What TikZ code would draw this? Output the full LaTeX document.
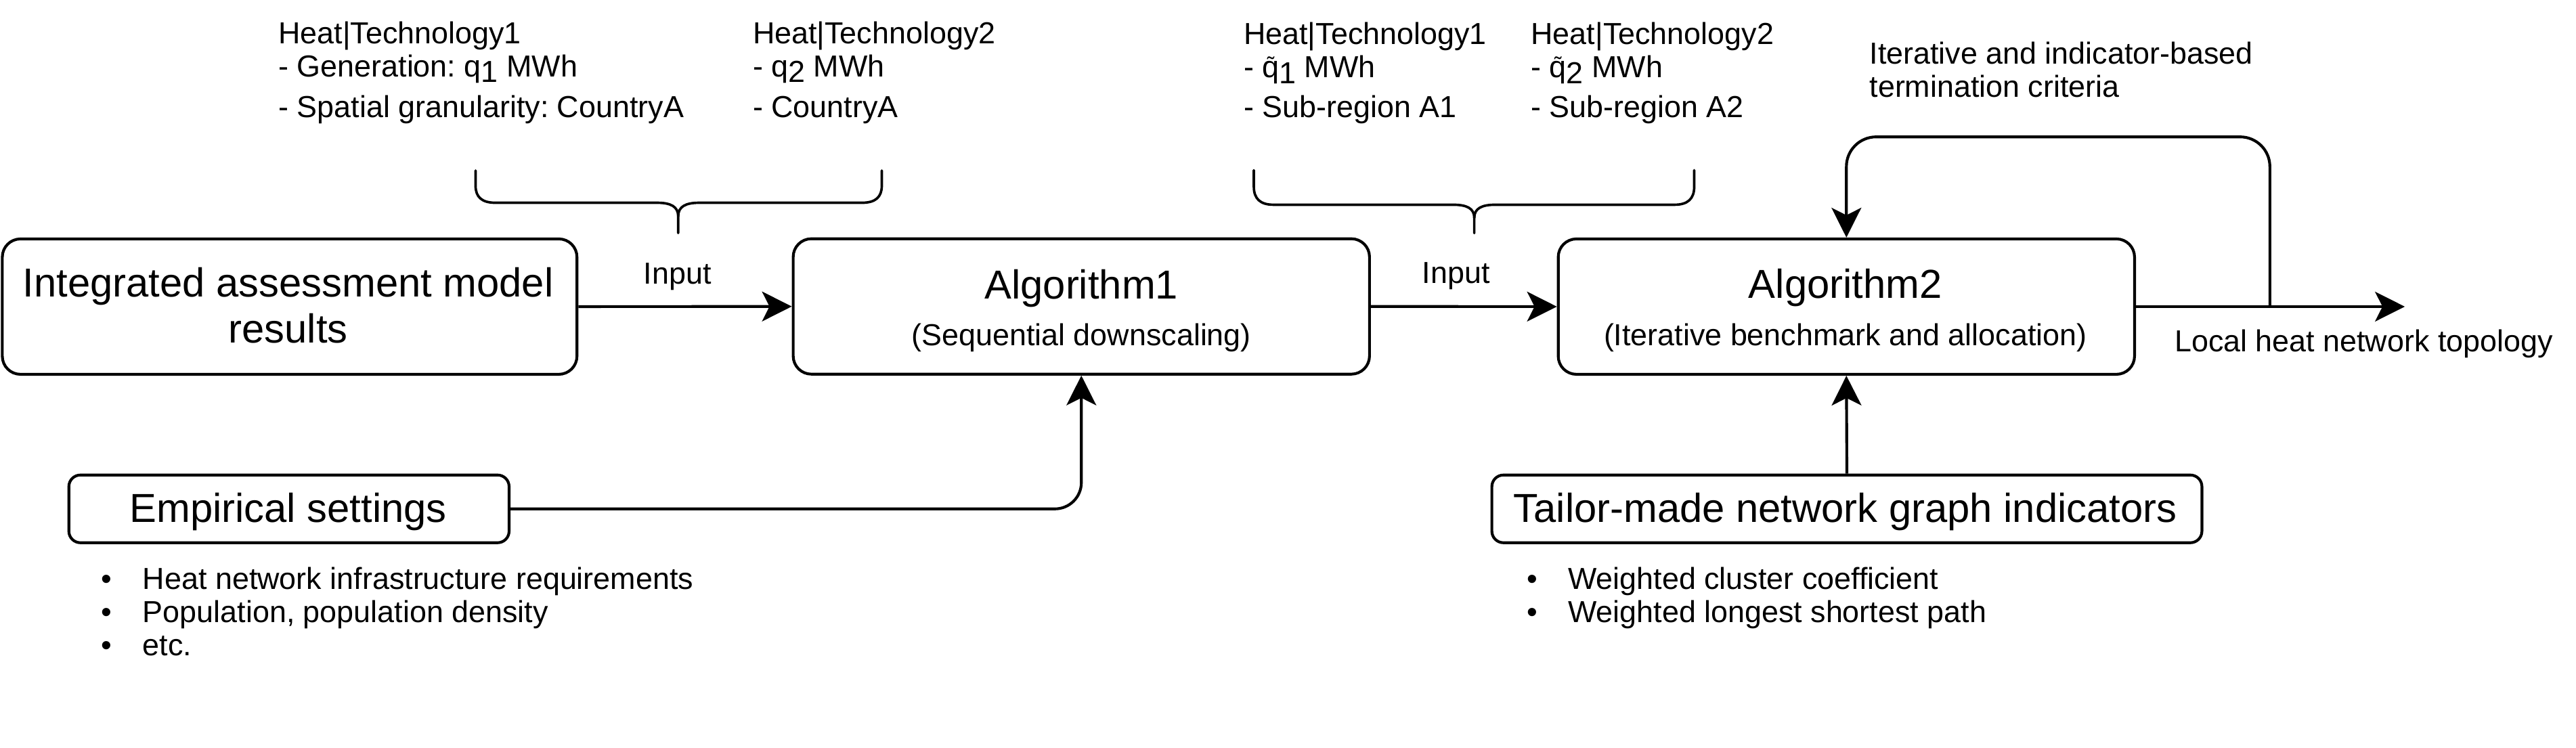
\documentclass[tikz,border=0pt]{standalone}
\usepackage{fontspec}
\setmainfont{Liberation Sans}
\usetikzlibrary{arrows.meta}
\frenchspacing
\newcommand\sbx[1]{\raisebox{-3.4pt}{#1}}
\newcommand\qtl{\ooalign{q\cr\hidewidth\raisebox{3.5pt}{\fontsize{13}{13}\selectfont\char"02DC}\hidewidth\cr}}
\tikzset{
  bigbox/.style={draw, line width=1.7pt, rounded corners=11pt, inner sep=0pt, minimum height=82pt},
  smallbox/.style={draw, line width=1.7pt, rounded corners=7pt, inner sep=0pt, minimum height=41pt},
  bigtxt/.style={font=\fontsize{24.5}{28}\selectfont, inner sep=0pt, anchor=base},
  smalltxt/.style={font=\fontsize{18.4}{20}\selectfont, inner sep=0pt},
  arr/.style={-{Stealth[length=18pt, width=18pt, inset=4.5pt]}, line width=1.7pt},
  bracepath/.style={line width=1.5pt, line join=round, line cap=round},
}
\begin{document}
\begin{tikzpicture}[x=1pt, y=-1pt]
\fill[white] (0,0) rectangle (1560,453);
\useasboundingbox (0,0) rectangle (1560,453);

% main boxes
\node[bigbox, minimum width=348pt] (iam) at (175.4,185.7) {};
\node[bigtxt] (iamA) at (174.5,179.8) {Integrated assessment model};
\node[bigtxt] (iamB) at (174.5,207.7) {results};

\node[bigbox, minimum width=349pt] (alg1) at (654.85,185.6) {};
\node[bigtxt] (alg1t) at (654.85,180.8) {Algorithm1};
\node[smalltxt, anchor=base] (alg1s) at (654.85,209.1) {(Sequential downscaling)};

\node[bigbox, minimum width=349pt] (alg2) at (1118.15,185.7) {};
\node[bigtxt] (alg2t) at (1117.5,180.6) {Algorithm2};
\node[smalltxt, anchor=base] (alg2s) at (1117.5,209.4) {(Iterative benchmark and allocation)};

\node[smallbox, minimum width=266.6pt] (emp) at (175,308.2) {};
\node[bigtxt] (empt) at (174.5,316.4) {Empirical settings};

\node[smallbox, minimum width=430pt] (tai) at (1118.45,308.2) {};
\node[bigtxt] (tait) at (1117.5,316.4) {Tailor-made network graph indicators};

% connectors
\draw[arr] (iam.east) -- (alg1.west);
\node[smalltxt, anchor=base] (in1) at (410.3,172) {Input};
\draw[arr] (alg1.east) -- (alg2.west);
\node[smalltxt, anchor=base] (in2) at (881.7,171.5) {Input};

\coordinate (out) at (1456.3,185.7);
\coordinate (split) at (1374.6,185.7);
\draw[arr] (alg2.east) -- (out);
\draw[arr, rounded corners=18pt] (split) -- (1374.6,82.9) -| (alg2.north);
\node[smalltxt, anchor=base west] (lht) at (1316.7,212.9) {Local heat network topology};
\node[smalltxt, anchor=base west] (crit1) at (1132,38.8) {Iterative and indicator-based};
\node[smalltxt, anchor=base west] (crit2) at (1132,59.0) {termination criteria};

\draw[arr, rounded corners=16pt] (emp.east) -| (alg1.south);
\draw[arr] (tai.north) -- (alg2.south);

% text blocks above
\node[smalltxt, anchor=base west] (a1) at (168.5,26.5) {Heat|Technology1};
\node[smalltxt, anchor=base west] (a2) at (168.5,46.6) {- Generation: q\sbx{1} MWh};
\node[smalltxt, anchor=base west] (a3) at (168.5,71.3) {- Spatial granularity: CountryA};

\node[smalltxt, anchor=base west] (b1) at (455.7,26.5) {Heat|Technology2};
\node[smalltxt, anchor=base west] (b2) at (455.7,46.6) {- q\sbx{2} MWh};
\node[smalltxt, anchor=base west] (b3) at (455.7,71.3) {- CountryA};

\node[smalltxt, anchor=base west] (c1) at (753,26.8) {Heat|Technology1};
\node[smalltxt, anchor=base west] (c2) at (753,47.1) {- \qtl\sbx{1} MWh};
\node[smalltxt, anchor=base west] (c3) at (753,71.1) {- Sub-region A1};

\node[smalltxt, anchor=base west] (d1) at (927,26.8) {Heat|Technology2};
\node[smalltxt, anchor=base west] (d2) at (927,47.1) {- \qtl\sbx{2} MWh};
\node[smalltxt, anchor=base west] (d3) at (927,71.1) {- Sub-region A2};

% braces
\draw[bracepath] (288,103.3) -- (288,112.5) .. controls (288,119.5) and (292,122.8) .. (300,122.8)
  -- (398,122.8) .. controls (406,122.8) and (410.7,125) .. (410.7,131) -- (410.7,141.2);
\draw[bracepath] (534,103.3) -- (534,112.5) .. controls (534,119.5) and (530,122.8) .. (522,122.8)
  -- (423.4,122.8) .. controls (415.4,122.8) and (410.7,125) .. (410.7,131);

\draw[bracepath] (759.3,103.1) -- (759.3,113) .. controls (759.3,120.5) and (763.3,124) .. (771.3,124)
  -- (880,124) .. controls (888,124) and (892.8,126) .. (892.8,132) -- (892.8,141.2);
\draw[bracepath] (1026,103.1) -- (1026,113) .. controls (1026,120.5) and (1022,124) .. (1014,124)
  -- (905.6,124) .. controls (897.6,124) and (892.8,126) .. (892.8,132);

% bullet lists
\node[smalltxt, anchor=base] (e1b) at (64.7,356.7) {•};
\node[smalltxt, anchor=base west] (e1) at (86.3,356.7) {Heat network infrastructure requirements};
\node[smalltxt, anchor=base] (e2b) at (64.7,376.8) {•};
\node[smalltxt, anchor=base west] (e2) at (86.3,376.8) {Population, population density};
\node[smalltxt, anchor=base] (e3b) at (64.7,396.9) {•};
\node[smalltxt, anchor=base west] (e3) at (86.3,396.9) {etc.};

\node[smalltxt, anchor=base] (w1b) at (927.9,356.7) {•};
\node[smalltxt, anchor=base west] (w1) at (949.4,356.7) {Weighted cluster coefficient};
\node[smalltxt, anchor=base] (w2b) at (927.9,376.8) {•};
\node[smalltxt, anchor=base west] (w2) at (949.4,376.8) {Weighted longest shortest path};
\end{tikzpicture}
\end{document}
